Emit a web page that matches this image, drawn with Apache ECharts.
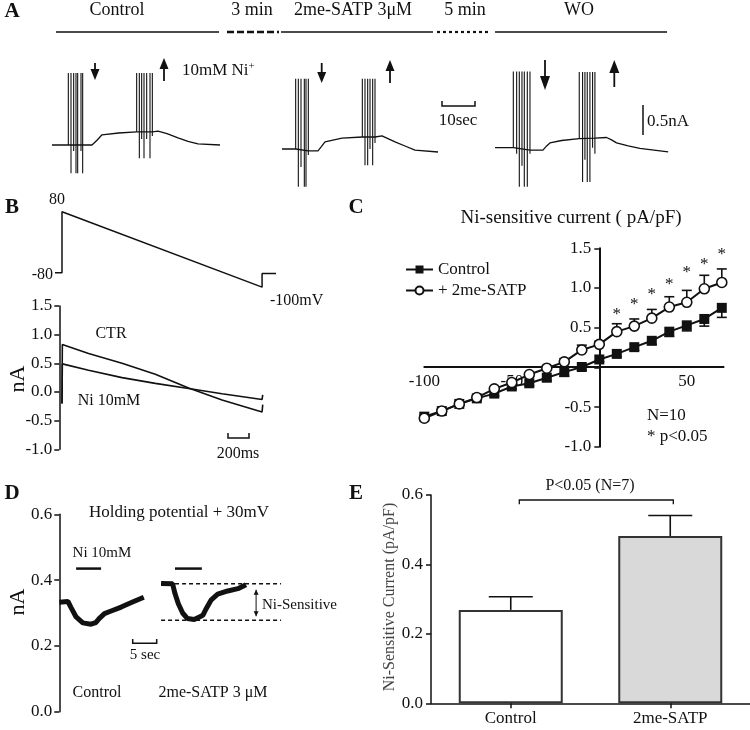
<!DOCTYPE html>
<html>
<head>
<meta charset="utf-8">
<title>Ni-sensitive current</title>
<script src="https://cdn.jsdelivr.net/npm/echarts@6.0.0/dist/echarts.min.js"></script>
<style>
  html, body { margin: 0; padding: 0; background: #fff; }
  #chart { width: 750px; height: 730px; }
</style>
</head>
<body>
<div id="chart"></div>
<script>
// ---------- values ----------

// A: current traces, [time s, current nA], time from each trace start
const ctrlTraceA = [[0, 0], [4.9, 0], [9.2, 0], [12, 0], [13.5, 0.08], [15, 0.17], [20, 0.2], [25.4, 0.22], [30.1, 0.22], [31.8, 0.23], [34.5, 0.19], [37.8, 0.12], [40.8, 0.06], [43.8, 0.02], [50.4, 0]]
const satpTraceA = [[0, 0], [4.1, 0], [7.9, -0.03], [10.8, -0.03], [11.8, 0.04], [12.9, 0.12], [18, 0.18], [24.1, 0.2], [27.9, 0.2], [30, 0.22], [33.9, 0.12], [36.9, 0.05], [39.9, -0.02], [46.8, -0.05]]
const woTraceA = [[0, 0], [5.5, 0], [10.5, -0.04], [14.4, -0.04], [15.5, 0.03], [16.5, 0.08], [20, 0.12], [25.3, 0.15], [30, 0.16], [33.5, 0.17], [35, 0.13], [36.5, 0.08], [40, 0.03], [43.5, -0.01], [52, -0.07]]
// spikes: [time s, peak nA, trough nA]
const ctrlSpikesA = [[4.9, 1.2, 0], [5.7, 1.2, -0.47], [6.5, 1.2, -0.1], [7.2, 1.2, -0.47], [7.7, 1.2, -0.47], [8.7, 1.2, -0.1], [9.2, 1.2, -0.47],
  [25.4, 1.2, 0.22], [26.2, 1.2, -0.22], [26.9, 1.2, 0.1], [27.6, 1.2, -0.22], [28.4, 1.2, 0.1], [29.4, 1.2, -0.22], [30.1, 1.2, 0.15]]
const satpSpikesA = [[4.1, 1.17, 0], [4.9, 1.17, -0.63], [5.7, 1.17, -0.3], [6.7, 1.17, -0.63], [7.2, 1.17, -0.63], [7.9, 1.17, -0.1],
  [24.1, 1.17, 0.2], [24.9, 1.17, -0.27], [25.7, 1.17, -0.27], [26.4, 1.17, 0], [27.2, 1.17, -0.27], [27.9, 1.17, 0.1]]
const woSpikesA = [[5.5, 1.27, 0], [6.5, 1.27, -0.1], [7.3, 1.27, -0.65], [8.1, 1.27, -0.3], [8.8, 1.27, -0.65], [9.7, 1.27, -0.65], [10.5, 1.27, -0.1],
  [25.3, 1.26, 0.15], [26.3, 1.26, -0.57], [27.0, 1.26, -0.2], [27.7, 1.26, -0.57], [28.5, 1.26, -0.57], [29.3, 1.26, 0], [30.0, 1.26, -0.1]]

// B: ramp protocol [ms, mV] and ramp currents [ms, nA]
const rampB = [[-65, -80], [0, -80], [0, 80], [1844, -118], [1844, -82], [1973, -82]]
const ctrB = [[0, -0.2], [3, 0.83], [245, 0.67], [553, 0.5], [860, 0.31], [1167, 0.07], [1475, -0.14], [1844, -0.35], [1850, -0.22]]
const niB = [[0, -0.2], [3, 0.49], [245, 0.38], [553, 0.25], [860, 0.15], [1167, 0.06], [1475, -0.03], [1844, -0.13], [1850, -0.05]]

// C: I-V relation of the Ni-sensitive current
const ivVolt = [-100, -90, -80, -70, -60, -50, -40, -30, -20, -10, 0, 10, 20, 30, 40, 50, 60, 70]
const ivControl = [-0.62, -0.55, -0.46, -0.39, -0.33, -0.24, -0.2, -0.13, -0.06, 0.005, 0.1, 0.17, 0.255, 0.335, 0.45, 0.53, 0.61, 0.75]
const ivControlErr = [0.02, 0.02, 0.02, 0.02, 0.03, 0.03, 0.03, 0.04, 0.05, 0.04, 0.03, 0.035, 0.04, 0.045, 0.06, 0.07, 0.09, 0.12]
const ivSatp = [-0.64, -0.55, -0.46, -0.38, -0.27, -0.19, -0.09, -0.01, 0.07, 0.22, 0.29, 0.45, 0.52, 0.62, 0.76, 0.82, 0.99, 1.07]
const ivSatpErr = [0.02, 0.02, 0.02, 0.02, 0.02, 0.02, 0.02, 0.03, 0.04, 0.06, 0.04, 0.1, 0.09, 0.11, 0.13, 0.15, 0.17, 0.17]
const starVolt = [10, 20, 30, 40, 50, 60, 70]
const starY = [0.71, 0.84, 0.97, 1.1, 1.24, 1.35, 1.47]

// D: holding current at +30 mV [s, nA]
const ctrlD = [[0, 0.333], [1.8, 0.335], [2.4, 0.318], [3.5, 0.288], [4.9, 0.27], [6.6, 0.266], [7.6, 0.271], [8.3, 0.283], [9.4, 0.298], [10.8, 0.306], [12.9, 0.318], [14.9, 0.331], [17.6, 0.348]]
const satpD = [[0, 0.39], [2.4, 0.389], [2.9, 0.359], [3.6, 0.328], [4.5, 0.3], [5.5, 0.283], [6.9, 0.28], [8.0, 0.288], [8.7, 0.293], [9.4, 0.313], [10.4, 0.339], [11.8, 0.357], [13.9, 0.367], [16.0, 0.374], [17.7, 0.386]]
const niOnCtrlD = [3.5, 8.7]
const niOnSatpD = [2.9, 8.5]
const niBarLevelD = 0.435
const satpLevelsD = [0.389, 0.278]
const levelSpanD = [0, 25]
const levelArrowD = 19.8

// E: summary bars
const eCats = ['Control', '2me-SATP']
const eMeans = [0.269, 0.482]
const eErrs = [0.038, 0.059]

// ---------- layout / style ----------
const FONT = 'Liberation Serif'
const INK = '#111'
const satpOffsetD = 21.2

const T = (x, y, text, size, extra, rotation) => ({
  type: 'text', x, y, silent: true, rotation: rotation || 0,
  style: Object.assign({ text, fontFamily: FONT, fontSize: size, fill: INK, align: 'center', verticalAlign: 'middle' }, extra || {}),
})
const L = (x1, y1, x2, y2, w, dash) => ({
  type: 'line', silent: true, shape: { x1, y1, x2, y2 },
  style: { stroke: INK, lineWidth: w || 1.3, lineDash: dash || null },
})
const PL = (points, w) => ({ type: 'polyline', silent: true, shape: { points }, style: { stroke: INK, lineWidth: w || 1.3, fill: null } })
const PG = (points) => ({ type: 'polygon', silent: true, shape: { points }, style: { fill: INK } })

const arrow = (x, yTop, yBot, down, h, w) => {
  h = h || 11
  w = w || 4.5
  if (down) return [L(x, yTop, x, yBot - h, 1.8), PG([[x - w, yBot - h], [x + w, yBot - h], [x, yBot]])]
  return [L(x, yTop + h, x, yBot, 1.8), PG([[x - w, yTop + h], [x + w, yTop + h], [x, yTop]])]
}

const grids = [
  { left: 52, top: 61, width: 170, height: 132 },
  { left: 282, top: 65, width: 170, height: 132 },
  { left: 495, top: 63.7, width: 176.5, height: 132 },
  { left: 54.4, top: 211.7, width: 224.6, height: 76.2 },
  { left: 59.3, top: 306, width: 219.7, height: 143.3 },
  { left: 424.3, top: 248.3, width: 299.25, height: 198.5 },
  { left: 59.3, top: 514.3, width: 230.4, height: 197.4 },
  { left: 431, top: 495, width: 319, height: 208.3 },
].map((g) => Object.assign({ outerBoundsMode: 'none', containLabel: false }, g))

const hidden = (gridIndex, min, max) => ({ gridIndex, type: 'value', min, max, show: false, splitLine: { show: false } })
const axLine = (w) => ({ show: true, onZero: false, lineStyle: { color: INK, width: w || 1.5 } })
const axTick = { show: true, inside: false, length: 5, lineStyle: { color: INK, width: 1.5 } }
const axLabel = (size, margin, fmt) => ({ fontFamily: FONT, fontSize: size, color: INK, margin, formatter: fmt })
const oneDec = (v) => v.toFixed(1)

// panel C axes cross at the origin: shift them onto it
const cZeroX = 175      // px from grid left to x = 0
const cZeroY = 80.1     // px from grid bottom to y = 0

const xAxis = [
  hidden(0, 0, 51), hidden(1, 0, 51), hidden(2, 0, 53),
  hidden(3, -70, 2000), hidden(4, -25, 2000),
  {
    gridIndex: 5, type: 'value', min: -100, max: 71, interval: 50, position: 'bottom', offset: -cZeroY,
    axisLine: { show: true, onZero: false, lineStyle: { color: INK, width: 2 } },
    axisTick: { show: false }, splitLine: { show: false },
    axisLabel: Object.assign(axLabel(17, 6, (v) => (v === 0 || v > 60 ? '' : String(v))), { showMaxLabel: false }),
  },
  hidden(6, 0, 48),
  {
    gridIndex: 7, type: 'category', data: eCats,
    axisLine: axLine(1.5), axisTick: Object.assign({ alignWithLabel: true }, axTick),
    axisLabel: axLabel(17, 7),
  },
]
const yAxis = [
  hidden(0, -0.8, 1.4), hidden(1, -0.8, 1.4), hidden(2, -0.8, 1.4),
  hidden(3, -120, 80),
  {
    gridIndex: 4, type: 'value', min: -1, max: 1.5, interval: 0.5,
    axisLine: axLine(1.5), axisTick: axTick, splitLine: { show: false },
    axisLabel: axLabel(17, 7, oneDec),
  },
  {
    gridIndex: 5, type: 'value', min: -1, max: 1.5, interval: 0.5, position: 'left', offset: -cZeroX,
    axisLine: { show: true, onZero: false, lineStyle: { color: INK, width: 2 } },
    axisTick: axTick, splitLine: { show: false },
    axisLabel: axLabel(17, 8, (v) => (v === 0 ? '' : v.toFixed(1))),
  },
  {
    gridIndex: 6, type: 'value', min: 0, max: 0.6, interval: 0.2,
    axisLine: axLine(1.5), axisTick: axTick, splitLine: { show: false },
    axisLabel: axLabel(17, 7, oneDec),
  },
  {
    gridIndex: 7, type: 'value', min: 0, max: 0.6, interval: 0.2,
    axisLine: axLine(1.5), axisTick: axTick, splitLine: { show: false },
    axisLabel: axLabel(17, 8, oneDec),
  },
]

const trace = (gi, data, width, extra) => Object.assign({
  type: 'line', xAxisIndex: gi, yAxisIndex: gi, data, showSymbol: false, symbol: 'none',
  silent: true, animation: false, lineStyle: { color: INK, width: width || 1.3 },
}, extra || {})

const spikeItem = (params, api) => {
  const a = api.coord([api.value(0), api.value(1)])
  const b = api.coord([api.value(0), api.value(2)])
  return { type: 'line', shape: { x1: a[0], y1: a[1], x2: b[0], y2: b[1] }, style: { stroke: INK, lineWidth: 1.1 } }
}

const errItem = (cap) => (params, api) => {
  const x = api.value(0)
  const y = api.value(1)
  const a = api.coord([x, y])
  const b = api.coord([x, y + api.value(2)])
  return {
    type: 'group',
    children: [
      { type: 'line', shape: { x1: a[0], y1: a[1], x2: b[0], y2: b[1] }, style: { stroke: INK, lineWidth: 1.6 } },
      { type: 'line', shape: { x1: b[0] - cap, y1: b[1], x2: b[0] + cap, y2: b[1] }, style: { stroke: INK, lineWidth: 1.6 } },
    ],
  }
}

const series = []
;[ctrlTraceA, satpTraceA, woTraceA].forEach((d, i) => series.push(trace(i, d, 1.3)))
;[ctrlSpikesA, satpSpikesA, woSpikesA].forEach((d, i) => series.push({
  type: 'custom', xAxisIndex: i, yAxisIndex: i, data: d, renderItem: spikeItem, silent: true, animation: false,
}))

series.push(trace(3, rampB, 1.5))
series.push(trace(4, ctrB, 1.6))
series.push(trace(4, niB, 1.6))

// C
series.push({
  type: 'custom', xAxisIndex: 5, yAxisIndex: 5, silent: true, animation: false, renderItem: errItem(5), z: 1,
  data: ivVolt.map((v, i) => [v, ivControl[i], -ivControlErr[i]]),
})
series.push({
  type: 'custom', xAxisIndex: 5, yAxisIndex: 5, silent: true, animation: false, renderItem: errItem(5), z: 1,
  data: ivVolt.map((v, i) => [v, ivSatp[i], ivSatpErr[i]]),
})
series.push({
  name: 'Control', type: 'line', xAxisIndex: 5, yAxisIndex: 5, animation: false, silent: true, z: 3,
  data: ivVolt.map((v, i) => [v, ivControl[i]]),
  symbol: 'rect', symbolSize: 10, showSymbol: true,
  itemStyle: { color: INK }, lineStyle: { color: INK, width: 2 },
})
series.push({
  name: '+ 2me-SATP', type: 'line', xAxisIndex: 5, yAxisIndex: 5, animation: false, silent: true, z: 3,
  data: ivVolt.map((v, i) => [v, ivSatp[i]]),
  symbol: 'circle', symbolSize: 10, showSymbol: true,
  itemStyle: { color: '#fff', borderColor: INK, borderWidth: 1.6 }, lineStyle: { color: INK, width: 2 },
})
series.push({
  type: 'custom', xAxisIndex: 5, yAxisIndex: 5, silent: true, animation: false,
  data: starVolt.map((v, i) => [v, starY[i]]),
  renderItem: (params, api) => {
    const p = api.coord([api.value(0), api.value(1)])
    return { type: 'text', x: p[0], y: p[1] + 4, style: { text: '*', fontFamily: FONT, fontSize: 17, fill: INK, align: 'center', verticalAlign: 'middle' } }
  },
})

// D
series.push(trace(6, ctrlD, 5))
series.push(trace(6, satpD.map((p) => [p[0] + satpOffsetD, p[1]]), 5))
series.push(trace(6, niOnCtrlD.map((t) => [t, niBarLevelD]), 2.5))
series.push(trace(6, niOnSatpD.map((t) => [t + satpOffsetD, niBarLevelD]), 2.5))
satpLevelsD.forEach((lv) => series.push(trace(6, levelSpanD.map((t) => [t + satpOffsetD, lv]), 1.6, {
  lineStyle: { color: INK, width: 1.6, type: [4, 3] },
})))
series.push({
  type: 'custom', xAxisIndex: 6, yAxisIndex: 6, silent: true, animation: false,
  data: [[levelArrowD + satpOffsetD, satpLevelsD[0], satpLevelsD[1]]],
  renderItem: (params, api) => {
    const a = api.coord([api.value(0), api.value(1)])
    const b = api.coord([api.value(0), api.value(2)])
    const h = 5, w = 2.5
    return {
      type: 'group',
      children: [
        { type: 'line', shape: { x1: a[0], y1: a[1] + 6, x2: b[0], y2: b[1] - 4 }, style: { stroke: INK, lineWidth: 1 } },
        { type: 'polygon', shape: { points: [[a[0] - w, a[1] + 6 + h], [a[0] + w, a[1] + 6 + h], [a[0], a[1] + 6]] }, style: { fill: INK } },
        { type: 'polygon', shape: { points: [[b[0] - w, b[1] - 4 - h], [b[0] + w, b[1] - 4 - h], [b[0], b[1] - 4]] }, style: { fill: INK } },
      ],
    }
  },
})

// E
series.push({
  type: 'bar', xAxisIndex: 7, yAxisIndex: 7, barWidth: 104, silent: true, animation: false,
  data: eMeans.map((v, i) => ({ value: v, itemStyle: { color: i === 0 ? '#ffffff' : '#d9d9d9', borderColor: '#333', borderWidth: 2 } })),
})
series.push({
  type: 'custom', xAxisIndex: 7, yAxisIndex: 7, silent: true, animation: false, renderItem: errItem(22),
  data: eMeans.map((v, i) => [i, v, eErrs[i]]),
})

// ---------- annotations ----------
const graphic = [
  // panel letters
  T(12, 12, 'A', 21, { fontWeight: 'bold' }),
  T(12, 208, 'B', 21, { fontWeight: 'bold' }),
  T(356, 208, 'C', 21, { fontWeight: 'bold' }),
  T(12, 494, 'D', 21, { fontWeight: 'bold' }),
  T(356, 494, 'E', 21, { fontWeight: 'bold' }),

  // A header
  T(117, 10, 'Control', 18),
  T(252, 10, '3 min', 18),
  T(353, 10, '2me-SATP 3μM', 18),
  T(465, 10, '5 min', 18),
  T(579, 10, 'WO', 18),
  L(56, 32, 219, 32, 1.5),
  L(227, 32, 279, 32, 2.5, [7, 3]),
  L(281, 32, 433, 32, 1.5),
  L(437, 32, 488, 32, 2.2, [3, 3]),
  L(495, 32, 667, 32, 1.5),
  ...arrow(95, 63, 80, true),
  ...arrow(164, 58, 81, false),
  ...arrow(321.7, 63, 83, true),
  ...arrow(390, 60, 83, false),
  ...arrow(545, 60, 90, true, 14, 5),
  ...arrow(614.3, 60, 87, false, 13, 5),
  T(182, 71, '10mM Ni{s|+}', 17, { align: 'left', rich: { s: { fontFamily: FONT, fontSize: 11, padding: [0, 0, 10, 0] } } }),
  PL([[442, 101], [442, 106], [475, 106], [475, 101]], 1.5),
  T(458, 121, '10sec', 17),
  L(643, 105, 643, 135, 1.5),
  T(647, 122, '0.5nA', 17, { align: 'left' }),

  // B
  T(57, 200, '80', 16),
  T(53, 275, '-80', 16, { align: 'right' }),
  T(270, 301, '-100mV', 16, { align: 'left' }),
  T(111, 334, 'CTR', 16),
  T(109, 401, 'Ni 10mM', 16),
  PL([[228, 433], [228, 438], [249, 438], [249, 433]], 1.5),
  T(238, 454, '200ms', 16),
  T(18, 379, 'nA', 22, null, Math.PI / 2),

  // C
  T(571, 218, 'Ni-sensitive current ( pA/pF)', 19),
  T(647, 416, 'N=10', 17, { align: 'left' }),
  T(647, 437, '* p<0.05', 17, { align: 'left' }),

  // D
  T(179, 513, 'Holding potential + 30mV', 17),
  T(102, 553, 'Ni 10mM', 15),
  PL([[132.7, 639], [132.7, 643.3], [156.7, 643.3], [156.7, 639]], 1.5),
  T(145, 655, '5 sec', 15),
  T(262, 605, 'Ni-Sensitive', 15, { align: 'left' }),
  T(97, 693, 'Control', 16),
  T(213, 693, '2me-SATP 3 μM', 16),
  T(18, 602, 'nA', 22, null, Math.PI / 2),

  // E
  PL([[519.3, 504.3], [519.3, 500], [673.3, 500], [673.3, 504.3]], 1.3),
  T(590, 486, 'P<0.05 (N=7)', 16),
  T(390, 597, 'Ni-Sensitive Current (pA/pF)', 16, { fill: '#444' }, Math.PI / 2),
]

const chart = echarts.init(document.getElementById('chart'), null, { renderer: 'canvas' })
chart.setOption({
  animation: false,
  backgroundColor: '#fff',
  textStyle: { fontFamily: FONT },
  grid: grids,
  xAxis,
  yAxis,
  legend: {
    data: ['Control', '+ 2me-SATP'],
    left: 405, top: 261, orient: 'vertical', padding: 0,
    itemWidth: 27, itemHeight: 10, itemGap: 4,
    selectedMode: false,
    textStyle: { fontFamily: FONT, fontSize: 17, color: INK },
  },
  series,
  graphic,
})
</script>
</body>
</html>
